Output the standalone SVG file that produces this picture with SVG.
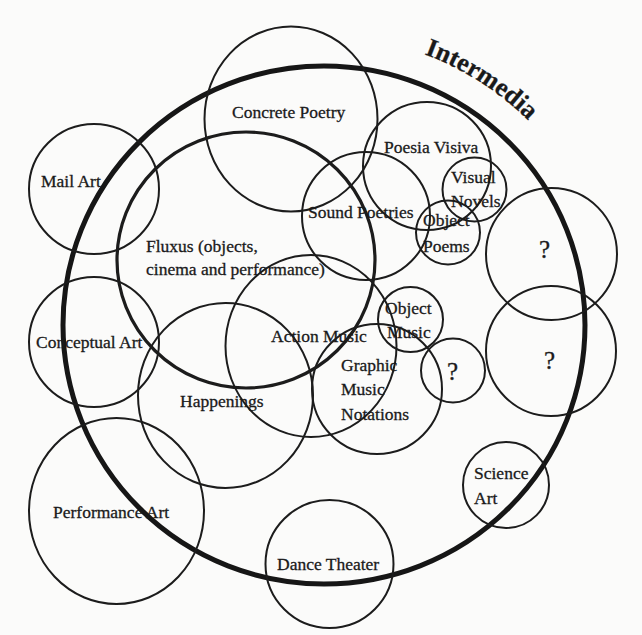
<svg xmlns="http://www.w3.org/2000/svg" width="642" height="635" viewBox="0 0 642 635">
<style>
.c{fill:none;stroke:#1c1c1c;stroke-width:2}
.fl{stroke-width:3.2}
.big{fill:none;stroke:#161616;stroke-width:5}
text{font-family:"Liberation Serif","DejaVu Serif",serif;font-size:17.5px;fill:#1a1a1a;stroke:#1a1a1a;stroke-width:0.3}
.q{font-size:25px}
.title{font-size:26px;font-weight:bold}
</style>
<defs>
<path id="arc" d="M424.2,54.3 A289,289 0 0 1 545.4,139.2"/>
</defs>
<rect width="642" height="635" fill="#fbfbfa"/>
<g id="intermedia">
<ellipse class="big" cx="324" cy="325" rx="261" ry="259"/>
<text class="title"><textPath href="#arc">Intermedia</textPath></text>
</g>
<g id="concrete-poetry">
<ellipse class="c" cx="291" cy="119" rx="86.5" ry="92.5"/>
<text x="232" y="118">Concrete Poetry</text>
</g>
<g id="mail-art">
<circle class="c" cx="94" cy="189" r="65"/>
<text x="41" y="187">Mail Art</text>
</g>
<g id="fluxus">
<ellipse class="c fl" cx="246" cy="260" rx="129" ry="128"/>
<text x="146" y="252">Fluxus (objects,</text>
<text x="146" y="275">cinema and performance)</text>
</g>
<g id="sound-poetries">
<circle class="c" cx="366" cy="216" r="64"/>
<text x="308" y="218">Sound Poetries</text>
</g>
<g id="poesia-visiva">
<circle class="c" cx="427" cy="166" r="64"/>
<text x="384" y="153">Poesia Visiva</text>
</g>
<g id="visual-novels">
<circle class="c" cx="474.5" cy="189.5" r="32"/>
<text x="451" y="183">Visual</text>
<text x="451" y="207">Novels</text>
</g>
<g id="object-poems">
<circle class="c" cx="448" cy="232.5" r="32"/>
<text x="423" y="226">Object</text>
<text x="423" y="252">Poems</text>
</g>
<g id="unknown-1">
<ellipse class="c" cx="551.5" cy="254" rx="65.5" ry="66"/>
<text class="q" x="539" y="258">?</text>
</g>
<g id="conceptual-art">
<circle class="c" cx="94" cy="342" r="65"/>
<text x="36" y="348">Conceptual Art</text>
</g>
<g id="action-music">
<ellipse class="c" cx="311" cy="346" rx="85.5" ry="91"/>
<text x="271" y="342">Action Music</text>
</g>
<g id="object-music">
<circle class="c" cx="410.5" cy="319.5" r="32.5"/>
<text x="385" y="314">Object</text>
<text x="387" y="338">Music</text>
</g>
<g id="graphic-music-notations">
<circle class="c" cx="377" cy="389" r="65"/>
<text x="341" y="371">Graphic</text>
<text x="341" y="395">Music</text>
<text x="341" y="420">Notations</text>
</g>
<g id="unknown-2">
<circle class="c" cx="453" cy="370.5" r="32"/>
<text class="q" x="447" y="380">?</text>
</g>
<g id="unknown-3">
<circle class="c" cx="551" cy="351" r="65"/>
<text class="q" x="544" y="369">?</text>
</g>
<g id="happenings">
<ellipse class="c" cx="225.5" cy="395.5" rx="87.5" ry="92.5"/>
<text x="180" y="407">Happenings</text>
</g>
<g id="performance-art">
<ellipse class="c" cx="116.5" cy="511" rx="87.5" ry="93"/>
<text x="53" y="518">Performance Art</text>
</g>
<g id="science-art">
<circle class="c" cx="506" cy="485" r="43"/>
<text x="474" y="479">Science</text>
<text x="474" y="504">Art</text>
</g>
<g id="dance-theater">
<circle class="c" cx="329.5" cy="564" r="64"/>
<text x="277" y="570">Dance Theater</text>
</g>
</svg>
